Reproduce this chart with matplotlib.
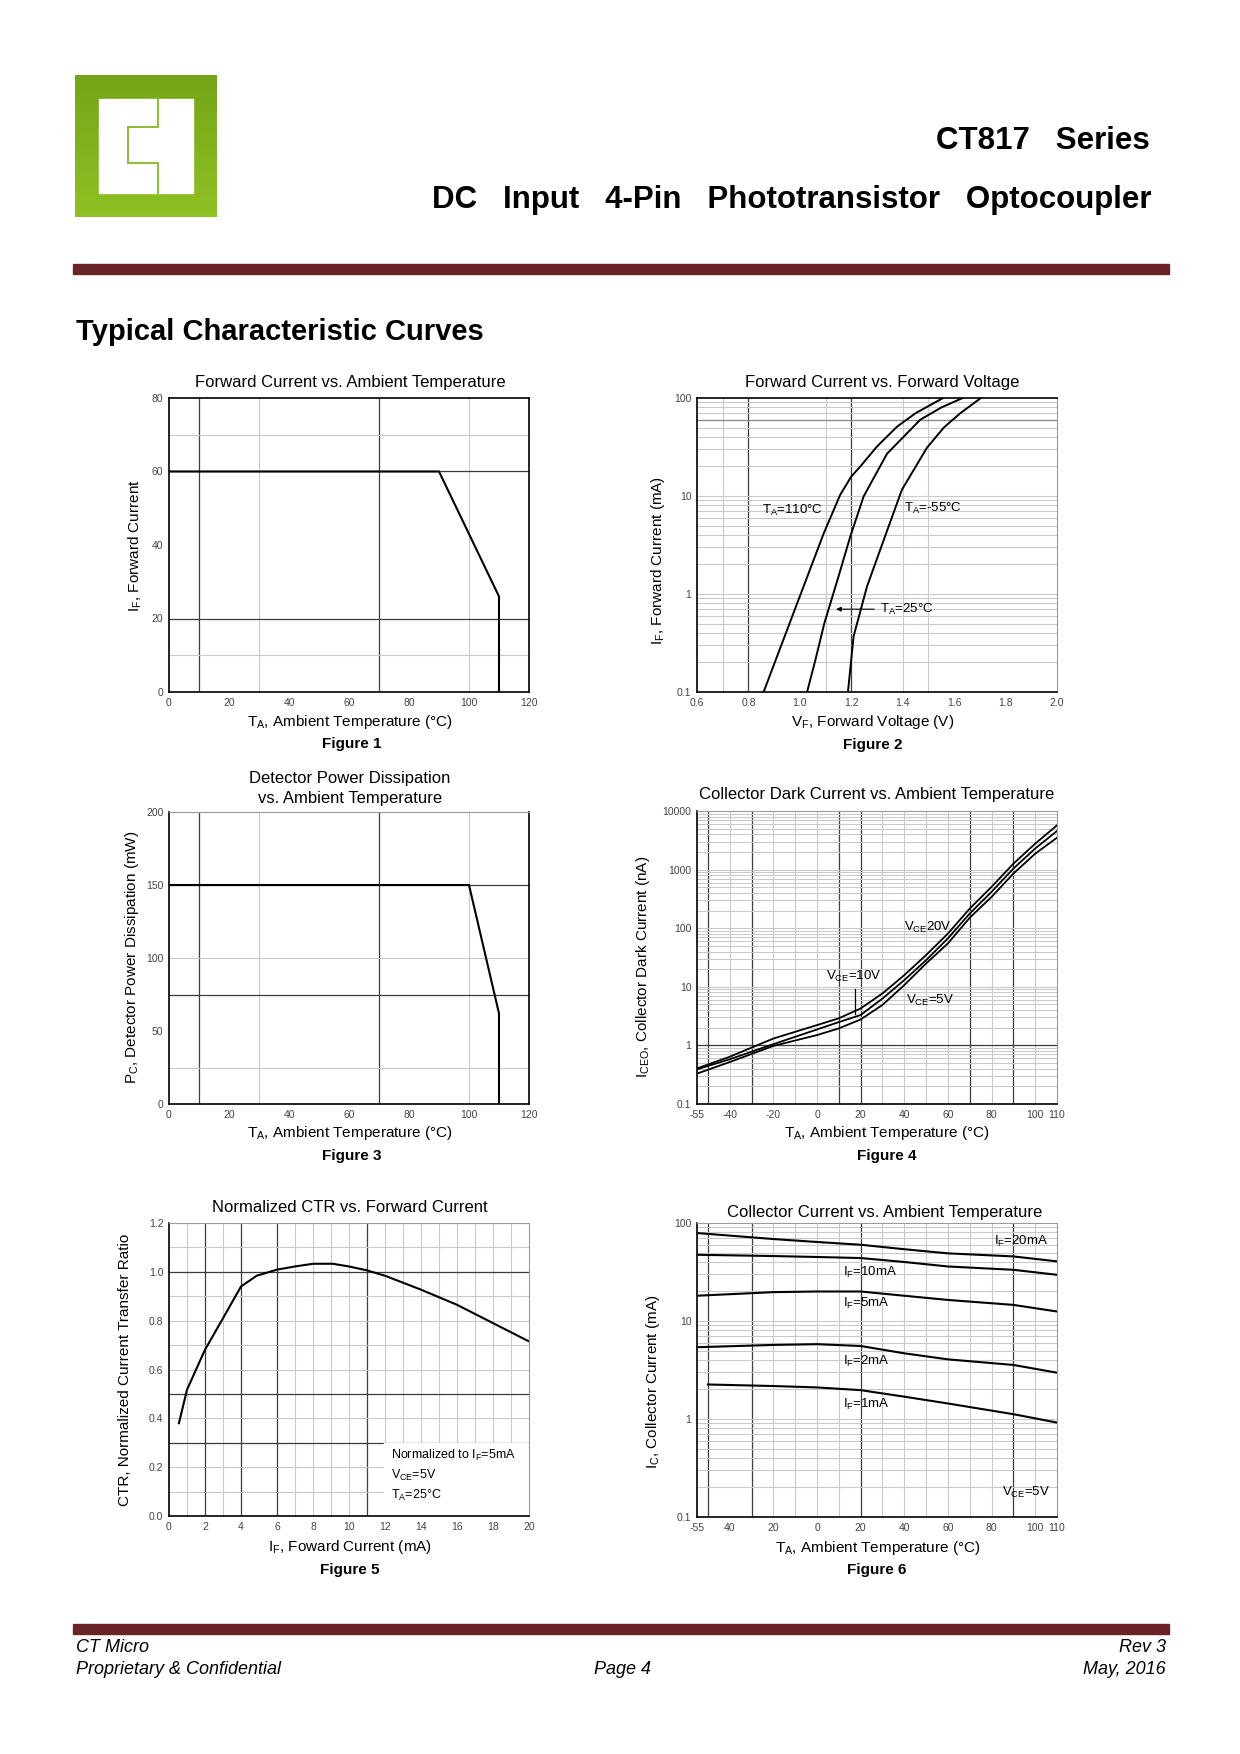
import numpy as np
import matplotlib
matplotlib.use('Agg')
import matplotlib.pyplot as plt
from matplotlib.patches import Rectangle
from matplotlib.ticker import FixedLocator, FixedFormatter, NullLocator

plt.rcParams['font.family'] = ['Liberation Sans', 'DejaVu Sans']
plt.rcParams['mathtext.fontset'] = 'custom'
plt.rcParams['mathtext.rm'] = 'Liberation Sans'
plt.rcParams['mathtext.it'] = 'Liberation Sans:italic'
plt.rcParams['mathtext.bf'] = 'Liberation Sans:bold'

W, H = 1240, 1754

# ---- data ----
# Figure 1: forward current derating
f1_temp = [0, 90, 110, 110]
f1_if = [60, 60, 26, 0]

# Figure 2: forward current vs forward voltage
f2_vf_110 = [0.859, 0.98, 1.093, 1.157, 1.20, 1.235, 1.30, 1.378, 1.45, 1.557]
f2_if_110 = [0.1, 0.69, 4.17, 10.3, 15.8, 20, 32, 51, 70, 100]
f2_vf_25 = [1.028, 1.06, 1.095, 1.15, 1.196, 1.248, 1.339, 1.468, 1.55, 1.633]
f2_if_25 = [0.1, 0.21, 0.5, 1.5, 3.85, 9.9, 27, 60, 80, 100]
f2_vf_m55 = [1.187, 1.209, 1.261, 1.326, 1.397, 1.494, 1.56, 1.624, 1.704]
f2_if_m55 = [0.1, 0.37, 1.19, 3.55, 11.6, 31, 50, 70, 100]

# Figure 3: detector power derating
f3_temp = [0, 100, 110, 110]
f3_pc = [150, 150, 62, 0]

# Figure 4: collector dark current vs temperature
f4_temp = [-55, -40, -20, 0, 10, 20, 30, 40, 50, 60, 70, 80, 90, 100, 110]
f4_vce20 = [0.405, 0.64, 1.31, 2.22, 2.9, 4.27, 7.7, 15.8, 34.8, 81, 216, 507, 1260, 2770, 5700]
f4_vce10 = [0.39, 0.58, 1.05, 1.87, 2.5, 3.3, 6.3, 13, 28.5, 67, 178, 417, 1040, 2290, 4560]
f4_vce5 = [0.33, 0.52, 0.98, 1.5, 1.95, 2.77, 4.9, 10.7, 25, 55, 151, 342, 855, 1870, 3500]

# Figure 5: normalized CTR vs forward current
f5_if = [0.55, 1, 2, 3, 4, 4.87, 6, 7, 8, 9.1, 10, 11, 12, 14, 16, 18, 20]
f5_ctr = [0.38, 0.517, 0.681, 0.81, 0.94, 0.984, 1.009, 1.022, 1.033, 1.033, 1.022, 1.006,
          0.984, 0.927, 0.865, 0.79, 0.715]

# Figure 6: collector current vs temperature
f6_temp = [-55, -20, 0, 20, 40, 60, 90, 110]
f6_if20 = [79, 68.6, 64, 60, 54, 49, 45.6, 40.6]
f6_if10 = [47.4, 46, 45, 43.9, 40, 36, 33.3, 29.6]
f6_if5 = [18.1, 19.7, 20, 20, 18.1, 16.4, 14.6, 12.5]
f6_if2 = [5.4, 5.7, 5.8, 5.56, 4.68, 4.06, 3.56, 2.97]
f6_temp_1ma = [-50, -20, 0, 20, 40, 60, 90, 110]
f6_if1 = [2.25, 2.17, 2.1, 1.97, 1.69, 1.44, 1.12, 0.92]

temp_ticks = [-55, -40, -20, 0, 20, 40, 60, 80, 100, 110]
f4_tick_labels = ['-55', '-40', '-20', '0', '20', '40', '60', '80', '100', '110']
f6_tick_labels = ['-55', '40', '20', '0', '20', '40', '60', '80', '100', '110']

LIGHT = '#c9c9c9'
DARK = '#3c3c3c'
MAROON = '#6a2426'
TICKC = '#444444'

fig = plt.figure(figsize=(W / 100, H / 100), dpi=100)

# overlay for page furniture, in pixel coordinates
page = fig.add_axes([0, 0, 1, 1])
page.axis('off')


def ptext(x, y, s, size=11, **kw):
    kw.setdefault('ha', 'center')
    kw.setdefault('va', 'center')
    page.text(x, y, s, fontsize=size, **kw)


# logo
grad = np.linspace(0, 1, 100).reshape(-1, 1)
page.imshow(grad, extent=(75, 217, 217, 75), cmap=matplotlib.colors.LinearSegmentedColormap.from_list(
    'g', ['#74a517', '#8fc123']), aspect='auto', zorder=1)
page.add_patch(Rectangle((99, 99), 94, 94, color='white', zorder=2))
page.plot([157.7, 157.7, 127.7, 127.7, 157.7, 157.7], [99, 126.7, 126.7, 162.7, 162.7, 193],
          color='#8dbf3a', lw=1.5, zorder=3, solid_joinstyle='miter')
page.set_xlim(0, W)
page.set_ylim(H, 0)

ptext(1150, 141, 'CT817   Series', size=22.5, weight='bold', ha='right')
ptext(1151, 200, 'DC   Input   4-Pin   Phototransistor   Optocoupler', size=22.5, weight='bold', ha='right')
page.add_patch(Rectangle((73, 264), 1096, 2, color=MAROON))
page.add_patch(Rectangle((73, 267.3), 1096, 6.4, color=MAROON))
ptext(76, 332, 'Typical Characteristic Curves', size=21, weight='bold', ha='left')

# footer
page.add_patch(Rectangle((73, 1624), 1096, 2, color=MAROON))
page.add_patch(Rectangle((73, 1627.3), 1096, 6.4, color=MAROON))
ptext(76, 1647, 'CT Micro', size=13, style='italic', ha='left')
ptext(76, 1669, 'Proprietary & Confidential', size=13, style='italic', ha='left')
ptext(622, 1669, 'Page 4', size=13, style='italic')
ptext(1166, 1647, 'Rev 3', size=13, style='italic', ha='right')
ptext(1166, 1669, 'May, 2016', size=13, style='italic', ha='right')


def px_axes(l, t, r, b):
    return fig.add_axes([l / W, 1 - b / H, (r - l) / W, (b - t) / H])


def style(ax, dark_spines=('left', 'bottom', 'top', 'right')):
    for name, sp in ax.spines.items():
        sp.set_color('black' if name in dark_spines else '#9a9a9a')
        sp.set_linewidth(1.2 if name in dark_spines else 0.8)
    ax.tick_params(length=0, labelsize=7.5, colors=TICKC, pad=4)
    ax.yaxis.set_minor_locator(NullLocator())
    ax.xaxis.set_minor_locator(NullLocator())


def grid(ax, xl=(), xd=(), yl=(), yd=()):
    for v in xl:
        ax.axvline(v, color=LIGHT, lw=0.8, zorder=0)
    for v in xd:
        ax.axvline(v, color=DARK, lw=0.9, zorder=0)
    for v in yl:
        ax.axhline(v, color=LIGHT, lw=0.8, zorder=0)
    for v in yd:
        ax.axhline(v, color=DARK, lw=0.9, zorder=0)


def minor_log(lo_exp, hi_exp):
    vals = []
    for e in range(lo_exp, hi_exp):
        for m in range(2, 10):
            vals.append(m * 10.0 ** e)
    return vals


TS = 12  # chart title size

# ---- Figure 1 ----
ax1 = px_axes(169, 398, 529, 692)
ax1.plot(f1_temp, f1_if, color='black', lw=1.5)
ax1.set_xlim(0, 120)
ax1.set_ylim(0, 80)
ax1.set_xticks(range(0, 121, 20))
ax1.set_yticks(range(0, 81, 20))
grid(ax1, xl=[30, 100], xd=[10, 70], yl=[10, 70], yd=[20, 60])
style(ax1)
ptext(350, 383, 'Forward Current vs. Ambient Temperature', size=TS)
ptext(350, 722, 'T$_\\mathregular{A}$, Ambient Temperature (°C)')
ptext(352, 744, 'Figure 1', weight='bold')
ptext(135, 546, 'I$_\\mathregular{F}$, Forward Current', rotation=90)

# ---- Figure 2 ----
ax2 = px_axes(697, 398, 1057, 692)
ax2.set_yscale('log')
ax2.plot(f2_vf_110, f2_if_110, color='black', lw=1.4)
ax2.plot(f2_vf_25, f2_if_25, color='black', lw=1.4)
ax2.plot(f2_vf_m55, f2_if_m55, color='black', lw=1.4)
ax2.set_xlim(0.6, 2.0)
ax2.set_ylim(0.1, 100)
ax2.set_xticks(np.arange(0.6, 2.01, 0.2))
ax2.set_xticklabels(['0.6', '0.8', '1.0', '1.2', '1.4', '1.6', '1.8', '2.0'])
ax2.yaxis.set_major_locator(FixedLocator([0.1, 1, 10, 100]))
ax2.yaxis.set_major_formatter(FixedFormatter(['0.1', '1', '10', '100']))
grid(ax2, xl=[0.7, 1.1, 1.4, 1.5], xd=[0.8, 1.2], yl=minor_log(-1, 2) + [1, 10])
ax2.axhline(60, color='#888888', lw=0.9, zorder=0)
style(ax2, dark_spines=('left', 'bottom', 'top'))
ax2.text(0.853, 7.2, 'T$_\\mathregular{A}$=110°C', fontsize=9.5, va='center')
ax2.text(1.404, 7.5, 'T$_\\mathregular{A}$=-55°C', fontsize=9.5, va='center')
ax2.text(1.31, 0.7, 'T$_\\mathregular{A}$=25°C', fontsize=9.5, va='center')
ax2.annotate('', xy=(1.13, 0.7), xytext=(1.30, 0.7),
             arrowprops=dict(arrowstyle='-|>', color='black', lw=0.8, mutation_scale=7))
ptext(882, 383, 'Forward Current vs. Forward Voltage', size=TS)
ptext(873, 722, 'V$_\\mathregular{F}$, Forward Voltage (V)')
ptext(873, 745, 'Figure 2', weight='bold')
ptext(658, 560, 'I$_\\mathregular{F}$, Forward Current (mA)', rotation=90)

# ---- Figure 3 ----
ax3 = px_axes(169, 812, 529, 1104)
ax3.plot(f3_temp, f3_pc, color='black', lw=1.5)
ax3.set_xlim(0, 120)
ax3.set_ylim(0, 200)
ax3.set_xticks(range(0, 121, 20))
ax3.set_yticks(range(0, 201, 50))
grid(ax3, xl=[30, 100], xd=[10, 70], yl=[25, 100, 200], yd=[75, 150])
style(ax3, dark_spines=('left', 'bottom', 'right'))
ptext(350, 778, 'Detector Power Dissipation', size=TS)
ptext(350, 799, 'vs. Ambient Temperature', size=TS)
ptext(350, 1133, 'T$_\\mathregular{A}$, Ambient Temperature (°C)')
ptext(352, 1156, 'Figure 3', weight='bold')
ptext(132, 957, 'P$_\\mathregular{C}$, Detector Power Dissipation (mW)', rotation=90)

# ---- Figure 4 ----
ax4 = px_axes(697, 811, 1057, 1104)
ax4.set_yscale('log')
ax4.plot(f4_temp, f4_vce20, color='black', lw=1.3)
ax4.plot(f4_temp, f4_vce10, color='black', lw=1.3)
ax4.plot(f4_temp, f4_vce5, color='black', lw=1.3)
ax4.set_xlim(-55, 110)
ax4.set_ylim(0.1, 10000)
ax4.xaxis.set_major_locator(FixedLocator(temp_ticks))
ax4.xaxis.set_major_formatter(FixedFormatter(f4_tick_labels))
ax4.yaxis.set_major_locator(FixedLocator([0.1, 1, 10, 100, 1000, 10000]))
ax4.yaxis.set_major_formatter(FixedFormatter(['0.1', '1', '10', '100', '1000', '10000']))
grid(ax4, xl=[-40, -20, -10, 0, 30, 40, 50, 60, 80, 100], xd=[-50, -30, 10, 20, 70, 90],
     yl=minor_log(-1, 4) + [10, 100, 1000], yd=[1])
style(ax4, dark_spines=('left', 'bottom'))
ax4.text(40, 105, 'V$_\\mathregular{CE}$20V', fontsize=9.5, va='center')
ax4.text(4.3, 14.8, 'V$_\\mathregular{CE}$=10V', fontsize=9.5, va='center')
ax4.plot([17.4, 17.4], [9.3, 3.4], color='black', lw=0.9)
ax4.text(41, 5.9, 'V$_\\mathregular{CE}$=5V', fontsize=9.5, va='center')
ptext(877, 795, 'Collector Dark Current vs. Ambient Temperature', size=TS)
ptext(887, 1133, 'T$_\\mathregular{A}$, Ambient Temperature (°C)')
ptext(887, 1156, 'Figure 4', weight='bold')
ptext(643, 967, 'I$_\\mathregular{CEO}$, Collector Dark Current (nA)', rotation=90)

# ---- Figure 5 ----
ax5 = px_axes(169, 1223, 529, 1516)
ax5.plot(f5_if, f5_ctr, color='black', lw=1.5)
ax5.set_xlim(0, 20)
ax5.set_ylim(0, 1.2)
ax5.set_xticks(range(0, 21, 2))
ax5.set_yticks(np.arange(0, 1.21, 0.2))
ax5.set_yticklabels(['0.0', '0.2', '0.4', '0.6', '0.8', '1.0', '1.2'])
grid(ax5, xl=[1, 3, 7, 8, 9, 10, 12, 13, 14, 15, 16, 17, 18, 19], xd=[2, 4, 6, 11],
     yl=[0.1, 0.2, 0.4, 0.6, 0.7, 0.8, 0.9, 1.1, 1.2], yd=[0.3, 0.5, 1.0])
style(ax5, dark_spines=('left', 'bottom'))
ax5.add_patch(Rectangle((11.95, 0.002), 8.0, 0.295, color='white', zorder=1))
ax5.text(12.35, 0.25, 'Normalized to I$_\\mathregular{F}$=5mA', fontsize=9, va='center', zorder=2)
ax5.text(12.35, 0.168, 'V$_\\mathregular{CE}$=5V', fontsize=9, va='center', zorder=2)
ax5.text(12.35, 0.086, 'T$_\\mathregular{A}$=25°C', fontsize=9, va='center', zorder=2)
ptext(350, 1208, 'Normalized CTR vs. Forward Current', size=TS)
ptext(350, 1547, 'I$_\\mathregular{F}$, Foward Current (mA)')
ptext(350, 1570, 'Figure 5', weight='bold')
ptext(125, 1370, 'CTR, Normalized Current Transfer Ratio', rotation=90)

# ---- Figure 6 ----
ax6 = px_axes(697, 1223, 1057, 1517)
ax6.set_yscale('log')
for ys in (f6_if20, f6_if10, f6_if5, f6_if2):
    ax6.plot(f6_temp, ys, color='black', lw=1.5)
ax6.plot(f6_temp_1ma, f6_if1, color='black', lw=1.5)
ax6.set_xlim(-55, 110)
ax6.set_ylim(0.1, 100)
ax6.xaxis.set_major_locator(FixedLocator(temp_ticks))
ax6.xaxis.set_major_formatter(FixedFormatter(f6_tick_labels))
ax6.yaxis.set_major_locator(FixedLocator([0.1, 1, 10, 100]))
ax6.yaxis.set_major_formatter(FixedFormatter(['0.1', '1', '10', '100']))
grid(ax6, xl=[-20, -10, 0, 10, 30, 40, 50, 60, 70, 80, 100], xd=[-50, -30, 20, 90],
     yl=minor_log(-1, 2) + [1, 10])
style(ax6, dark_spines=('left', 'bottom'))
ax6.text(81, 65, 'I$_\\mathregular{F}$=20mA', fontsize=9.5, va='center')
ax6.text(11.7, 31, 'I$_\\mathregular{F}$=10mA', fontsize=9.5, va='center')
ax6.text(11.7, 15.2, 'I$_\\mathregular{F}$=5mA', fontsize=9.5, va='center')
ax6.text(11.7, 3.85, 'I$_\\mathregular{F}$=2mA', fontsize=9.5, va='center')
ax6.text(11.7, 1.41, 'I$_\\mathregular{F}$=1mA', fontsize=9.5, va='center')
ax6.text(84.8, 0.176, 'V$_\\mathregular{CE}$=5V', fontsize=9.5, va='center')
ptext(885, 1213, 'Collector Current vs. Ambient Temperature', size=TS)
ptext(878, 1548, 'T$_\\mathregular{A}$, Ambient Temperature (°C)')
ptext(877, 1570, 'Figure 6', weight='bold')
ptext(653, 1382, 'I$_\\mathregular{C}$, Collector Current (mA)', rotation=90)

fig.savefig('out.png', dpi=100)
